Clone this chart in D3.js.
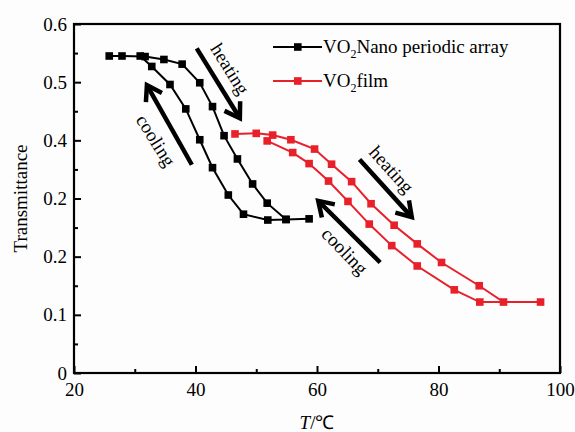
<!DOCTYPE html>
<html>

<head>
  <title>VO2 Transmittance</title>
  <script src="https://d3js.org/d3.v7.min.js"></script>
  <style>
    body {
      margin: 0;
      background: #fdfdfd;
    }

    svg text {
      font-family: "Liberation Serif", "Times New Roman", serif;
      fill: #000;
    }
  </style>
</head>

<body>
  <svg id="chart"></svg>
  <script>
    // nano periodic array: heating run, then cooling run back
    const nanoT = [25.8, 27.9, 31.7, 34.8, 37.8, 40.7, 42.8, 44.7, 46.9, 49.4, 51.8, 54.9, 58.7,
      54.9, 51.9, 47.9, 45.4, 42.8, 40.7, 38.4, 35.8, 32.8, 30.9]
    const nanoTr = [0.545, 0.545, 0.544, 0.539, 0.531, 0.499, 0.458, 0.408, 0.368, 0.325, 0.292, 0.264, 0.265,
      0.264, 0.263, 0.273, 0.306, 0.353, 0.401, 0.454, 0.496, 0.527, 0.545]

    // film: heating run, then cooling run back
    const filmT = [46.5, 50.0, 52.7, 55.7, 59.6, 62.4, 65.7, 68.9, 72.7, 76.5, 80.5, 86.7, 90.7, 96.8,
      86.8, 82.6, 76.5, 72.3, 68.6, 65.1, 61.9, 58.7, 56.0, 51.8]
    const filmTr = [0.411, 0.412, 0.409, 0.401, 0.385, 0.359, 0.329, 0.291, 0.254, 0.222, 0.190, 0.150, 0.122, 0.122,
      0.122, 0.143, 0.184, 0.219, 0.256, 0.295, 0.330, 0.360, 0.379, 0.399]

    const xTicks = [20, 40, 60, 80, 100]
    const xMinor = [30, 50, 70, 90]
    const yTicks = [0, 0.1, 0.2, 0.3, 0.4, 0.5, 0.6]
    const yLabels = ["0", "0.1", "0.2", "0.2", "0.4", "0.5", "0.6"]
    const yMinor = [0.05, 0.15, 0.25, 0.35, 0.45, 0.55]

    // annotation arrows, in data units: [tailT, tailTr, tipT, tipTr]
    const arrows = [
      [40.2, 0.558, 47.3, 0.438],
      [39.4, 0.358, 32.0, 0.495],
      [67.0, 0.367, 75.6, 0.268],
      [70.4, 0.190, 60.2, 0.296]
    ]
    const arrowText = ["heating", "cooling", "heating", "cooling"]
    const arrowTextPos = [[45.7, 0.523, 58], [33.5, 0.400, 58], [72.3, 0.350, 48], [64.6, 0.210, 46]]

    const svgwidth = 575
    const svgheight = 432
    const margin = { top: 24, right: 15, bottom: 59, left: 74 }
    const width = svgwidth - margin.left - margin.right
    const height = svgheight - margin.top - margin.bottom
    const fontSize = 19
    const serif = "Liberation Serif, Times New Roman, serif"
    const red = "#e8202a"

    const svg = d3.select("#chart")
      .attr("width", svgwidth)
      .attr("height", svgheight)

    const g = svg.append("g")
      .attr("transform", `translate(${margin.left},${margin.top})`)

    const x = d3.scaleLinear().domain([20, 100]).range([0, width])
    const y = d3.scaleLinear().domain([0, 0.6]).range([height, 0])

    // axes, ticks pointing inward
    g.append("g")
      .attr("transform", `translate(0,${height})`)
      .call(d3.axisBottom(x).tickValues(xTicks).tickSize(-7).tickPadding(10))
    g.append("g")
      .attr("transform", `translate(0,${height})`)
      .call(d3.axisBottom(x).tickValues(xMinor).tickSize(-4).tickFormat(""))

    g.append("g")
      .call(d3.axisLeft(y).tickValues(yTicks).tickSize(-7).tickPadding(7)
        .tickFormat((d, i) => yLabels[i]))
    g.append("g")
      .call(d3.axisLeft(y).tickValues(yMinor).tickSize(-4).tickFormat(""))

    g.selectAll(".domain").remove()
    g.selectAll(".tick line").attr("stroke", "#000").attr("stroke-width", 2)
    g.selectAll("g")
      .attr("font-family", serif)
      .attr("font-size", fontSize)

    g.append("rect")
      .attr("width", width)
      .attr("height", height)
      .attr("fill", "none")
      .attr("stroke", "#000")
      .attr("stroke-width", 2.2)

    // axis titles
    svg.append("text")
      .attr("transform", `translate(27,${margin.top + height / 2}) rotate(-90)`)
      .attr("text-anchor", "middle")
      .style("font-size", fontSize + "px")
      .text("Transmittance")

    const xt = svg.append("text")
      .attr("x", margin.left + width / 2)
      .attr("y", 429)
      .attr("text-anchor", "middle")
      .style("font-size", fontSize + "px")
    xt.append("tspan").style("font-style", "italic").text("T")
    xt.append("tspan").text("/℃")

    // series
    function drawSeries(ts, vs, color) {
      const pts = ts.map((t, i) => [t, vs[i]])
      g.append("path")
        .datum(pts)
        .attr("fill", "none")
        .attr("stroke", color)
        .attr("stroke-width", 2)
        .attr("d", d3.line().x(d => x(d[0])).y(d => y(d[1])))
      g.selectAll(null)
        .data(pts)
        .enter()
        .append("rect")
        .attr("x", d => x(d[0]) - 3.8)
        .attr("y", d => y(d[1]) - 3.8)
        .attr("width", 7.6)
        .attr("height", 7.6)
        .attr("fill", color)
    }
    drawSeries(nanoT, nanoTr, "#000")
    drawSeries(filmT, filmTr, red)

    // arrows with open heads
    arrows.forEach(a => {
      const x0 = x(a[0]), y0 = y(a[1]), x1 = x(a[2]), y1 = y(a[3])
      const ang = Math.atan2(y1 - y0, x1 - x0)
      const len = 17, spread = Math.PI / 5.5
      g.append("line")
        .attr("x1", x0).attr("y1", y0)
        .attr("x2", x1 - 2 * Math.cos(ang)).attr("y2", y1 - 2 * Math.sin(ang))
        .attr("stroke", "#000")
        .attr("stroke-width", 4.5)
      const p1 = [x1 - len * Math.cos(ang - spread), y1 - len * Math.sin(ang - spread)]
      const p2 = [x1 - len * Math.cos(ang + spread), y1 - len * Math.sin(ang + spread)]
      g.append("path")
        .attr("d", `M${p1[0]},${p1[1]}L${x1},${y1}L${p2[0]},${p2[1]}`)
        .attr("fill", "none")
        .attr("stroke", "#000")
        .attr("stroke-width", 4.5)
        .attr("stroke-linejoin", "miter")
    })

    arrowTextPos.forEach((p, i) => {
      g.append("text")
        .attr("transform", `translate(${x(p[0])},${y(p[1])}) rotate(${p[2]})`)
        .attr("text-anchor", "middle")
        .attr("dy", "0.35em")
        .style("font-size", fontSize + "px")
        .text(arrowText[i])
    })

    // legend
    const legend = [
      { color: "#000", name: "Nano periodic array", y: 47 },
      { color: red, name: "film", y: 81 }
    ]
    legend.forEach(l => {
      svg.append("line")
        .attr("x1", 273).attr("x2", 322)
        .attr("y1", l.y).attr("y2", l.y)
        .attr("stroke", l.color)
        .attr("stroke-width", 2)
      svg.append("rect")
        .attr("x", 294).attr("y", l.y - 3.8)
        .attr("width", 7.6).attr("height", 7.6)
        .attr("fill", l.color)
      const t = svg.append("text")
        .attr("x", 323)
        .attr("y", l.y + 6)
        .style("font-size", fontSize + "px")
      t.append("tspan").text("VO")
      t.append("tspan").attr("dy", 5).style("font-size", "12px").text("2")
      t.append("tspan").attr("dy", -5).text(l.name)
    })
  </script>
</body>

</html>
